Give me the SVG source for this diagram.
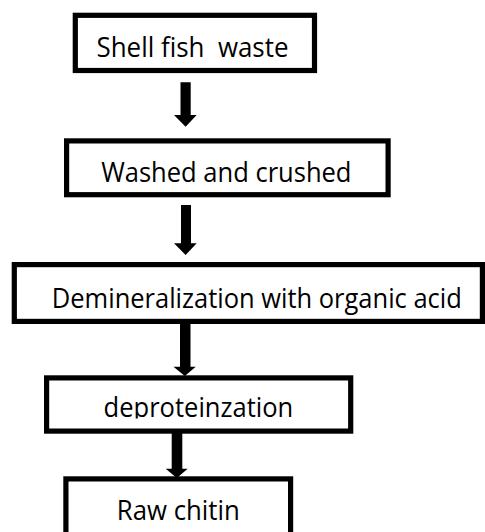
<svg xmlns="http://www.w3.org/2000/svg" width="485" height="532" viewBox="0 0 485 532">
<style>
.box{fill:#fff;stroke:#000;stroke-width:5.2}
.lbl{font-family:"Open Sans","Noto Sans","Liberation Sans",sans-serif;font-size:27px;fill:#000;white-space:pre}
.arr{fill:#000}
</style>
<defs>
<clipPath id="clipDep"><rect x="40" y="380" width="320" height="38.6"/></clipPath>
</defs>
<rect width="485" height="532" fill="#fff"/>
<g id="connectors">
<polygon class="arr" points="180.5,82.3 190.7,82.3 190.7,115 196.7,115 185.6,126.7 174,115 180.5,115"/>
<polygon class="arr" points="181,205 191,205 191,243.3 196.7,243.3 185.6,255 174,243.3 181,243.3"/>
<polygon class="arr" points="180,324 190.5,324 190.5,366.7 195.7,366.7 184.8,376 173.5,366.7 180,366.7"/>
<polygon class="arr" points="171.7,433 182.3,433 182.3,468.7 187.7,468.7 176.8,478 165.7,468.7 171.7,468.7"/>
</g>
<g id="node1">
<rect class="box" x="75.3" y="15.3" width="239.2" height="55.2"/>
<text class="lbl" x="96.5" y="56.7" textLength="192" lengthAdjust="spacingAndGlyphs" xml:space="preserve">Shell fish  waste</text>
</g>
<g id="node2">
<rect class="box" x="66.6" y="140.9" width="321.5" height="53.8"/>
<text class="lbl" x="101.2" y="181.7" textLength="250.3" lengthAdjust="spacingAndGlyphs">Washed and crushed</text>
</g>
<g id="node3">
<rect class="box" x="14.3" y="264.6" width="468.1" height="56.8"/>
<text class="lbl" x="51.8" y="308.3" textLength="410" lengthAdjust="spacingAndGlyphs">Demineralization with organic acid</text>
</g>
<g id="node4">
<rect class="box" x="46.6" y="377.9" width="304.1" height="53.2"/>
<text class="lbl" x="103.6" y="417" textLength="189.6" lengthAdjust="spacingAndGlyphs" clip-path="url(#clipDep)">deproteinzation</text>
</g>
<g id="node5">
<rect class="box" x="65.9" y="478.9" width="224.7" height="80"/>
<text class="lbl" x="116.8" y="520.3" textLength="123" lengthAdjust="spacingAndGlyphs">Raw chitin</text>
</g>
</svg>
